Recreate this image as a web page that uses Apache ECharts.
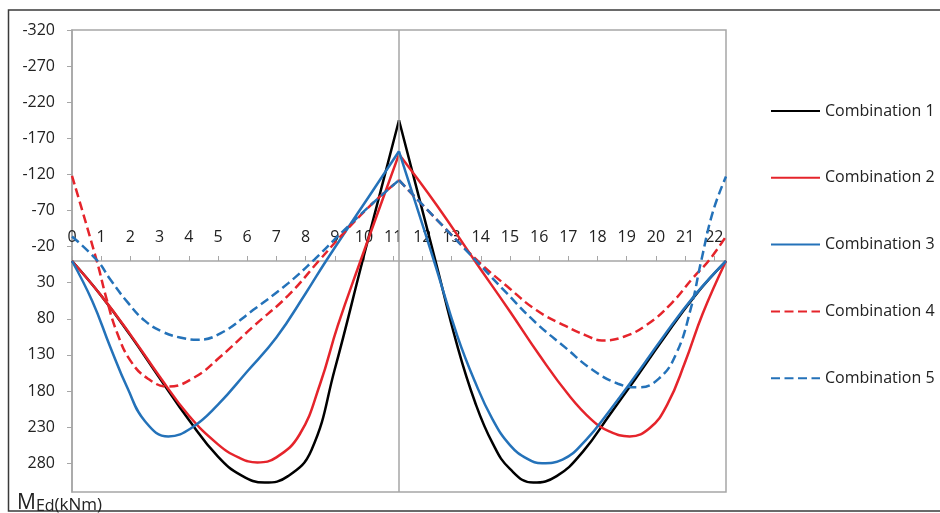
<!DOCTYPE html>
<html>
<head>
<meta charset="utf-8">
<script src="https://cdn.jsdelivr.net/npm/echarts@6/dist/echarts.min.js"></script>
<style>
  html, body { margin: 0; padding: 0; background: #ffffff; }
  #chart { width: 940px; height: 513px; }
</style>
</head>
<body>
<div id="chart"></div>
<script>
// Two spans of 11.2 m; the middle support is at x = 11.2 m
const supportX = 11.2;

// Stations x (m) and bending moment MEd (kNm) for each load combination
const comb1X = [0, 1.0, 2.0, 3.0, 4.0, 5.0, 5.8, 6.6, 7.4, 8.2, 9.0, 9.95, 11.2,
                12.45, 13.2, 13.8, 14.4, 15.0, 15.8, 16.6, 17.5, 18.4, 19.3, 20.2, 21.3, 22.4];
const comb1M = [0, 48, 103, 162, 220, 271, 297, 307, 298, 262, 150, 0, -195,
                0, 118, 195, 252, 288, 307, 298, 264, 214, 163, 111, 50, 0];

const comb2X = [0, 1.0, 2.0, 3.0, 4.0, 5.0, 5.7, 6.35, 7.0, 7.8, 8.5, 9.1, 9.88, 11.2,
                12.5, 13.8, 15.0, 16.0, 17.0, 17.8, 18.4, 19.1, 19.8, 20.4, 21.0, 21.6, 22.4];
const comb2M = [0, 48, 102, 160, 214, 254, 272, 279, 272, 240, 170, 90, 0, -148,
                -77, 0, 70, 130, 185, 220, 236, 243, 231, 198, 140, 73, 0];

const comb3X = [0, 0.7, 1.3, 1.9, 2.5, 3.3, 4.1, 5.0, 6.0, 7.0, 8.0, 8.7, 9.9, 11.2,
                12.4, 13.2, 13.8, 14.4, 15.0, 15.6, 16.1, 16.8, 17.6, 18.4, 19.3, 20.2, 21.3, 22.4];
const comb3M = [0, 56, 118, 176, 222, 243, 231, 199, 153, 106, 45, 0, -73, -152,
                0, 104, 167, 219, 255, 274, 280, 275, 248, 208, 159, 108, 49, 0];

const comb4X = [0, 0.85, 1.2, 1.55, 2.0, 2.6, 3.3, 4.2, 5.1, 6.2, 7.4, 8.45, 9.2, 10.3, 11.2,
                12.5, 13.9, 14.9, 15.9, 16.9, 17.6, 18.15, 18.9, 19.7, 20.5, 21.3, 21.8, 22.4];
const comb4M = [-118, 0, 55, 100, 138, 163, 174, 161, 132, 91, 48, 0, -34, -80, -112,
                -57, 0, 35, 68, 90, 103, 110, 105, 88, 60, 22, 0, -34];

const comb5X = [0, 0.88, 1.3, 1.9, 2.5, 3.1, 3.7, 4.3, 5.1, 6.2, 7.4, 8.3, 9.2, 10.3, 11.2,
                12.5, 13.85, 14.9, 15.9, 16.9, 17.8, 18.7, 19.4, 20.1, 20.7, 21.2, 21.55, 21.95, 22.4];
const comb5M = [-34, 0, 25, 57, 83, 98, 106, 109, 100, 68, 31, -2, -38, -80, -112,
                -57, 0, 45, 86, 120, 150, 170, 175, 163, 128, 65, 0, -68, -117];

const seriesNames = ['Combination 1', 'Combination 2', 'Combination 3', 'Combination 4', 'Combination 5'];
const combX = [comb1X, comb2X, comb3X, comb4X, comb5X];
const combM = [comb1M, comb2M, comb3M, comb4M, comb5M];

const RED = '#e5242b';
const BLUE = '#2472b9';
const GRID_GRAY = '#a6a6a6';
const TEXT = '#222222';
const FONT = 'Open Sans';

const styles = [
  { color: '#000000', type: 'solid' },
  { color: RED, type: 'solid' },
  { color: BLUE, type: 'solid' },
  { color: RED, type: [9, 4.5] },
  { color: BLUE, type: [9, 4.5] }
];

function pairs(xs, ys) { return xs.map((x, i) => [x, ys[i]]); }

// Each combination is drawn as two smooth spans so the support peak stays sharp
const series = [];
seriesNames.forEach((name, k) => {
  const st = styles[k];
  const xs = combX[k], ms = combM[k];
  const s = xs.indexOf(supportX);
  const base = {
    name: name,
    type: 'line',
    symbol: 'none',
    smooth: 0.45,
    z: 3 + k,
    lineStyle: { color: st.color, width: 2.5, type: st.type },
    itemStyle: { color: st.color }
  };
  series.push(Object.assign({}, base, { data: pairs(xs.slice(0, s + 1), ms.slice(0, s + 1)) }));
  series.push(Object.assign({}, base, { data: pairs(xs.slice(s), ms.slice(s)) }));
});

// Vertical line over the middle support
series.push({
  type: 'line',
  data: [],
  silent: true,
  z: 1,
  markLine: {
    silent: true,
    symbol: 'none',
    label: { show: false },
    lineStyle: { color: GRID_GRAY, width: 1.5, type: 'solid' },
    data: [{ xAxis: supportX }]
  }
});

const GRID_TOP = 30, GRID_BOTTOM = 21, CHART_H = 513;
const Y_MIN = -320, Y_MAX = 320;
// distance from the plot bottom up to the zero line
const zeroOffset = (CHART_H - GRID_TOP - GRID_BOTTOM) * (Y_MAX - 0) / (Y_MAX - Y_MIN);

const chart = echarts.init(document.getElementById('chart'), null, { renderer: 'canvas' });
chart.setOption({
  animation: false,
  backgroundColor: '#ffffff',
  textStyle: { fontFamily: FONT },
  grid: {
    left: 72, top: GRID_TOP, right: 214, bottom: GRID_BOTTOM,
    show: true, borderColor: GRID_GRAY, borderWidth: 1.5
  },
  legend: {
    orient: 'vertical',
    left: 770, top: 103,
    padding: 0,
    itemWidth: 49, itemHeight: 14, itemGap: 50.8,
    data: seriesNames,
    itemStyle: { opacity: 0 },
    textStyle: { fontFamily: FONT, fontSize: 16, color: TEXT }
  },
  xAxis: {
    type: 'value',
    position: 'bottom',
    offset: -zeroOffset,
    min: 0, max: 22.4, interval: 1,
    axisLine: { onZero: false, lineStyle: { color: GRID_GRAY, width: 1.5 } },
    axisTick: { show: true, inside: true, length: 5, lineStyle: { color: GRID_GRAY } },
    axisLabel: { inside: true, margin: 16, showMaxLabel: false, fontFamily: FONT, fontSize: 16, color: TEXT },
    splitLine: { show: false }
  },
  yAxis: {
    type: 'value',
    inverse: true,
    min: Y_MIN, max: Y_MAX, interval: 50,
    axisLine: { show: true, lineStyle: { color: GRID_GRAY, width: 1.5 } },
    axisTick: { show: true, length: 5, lineStyle: { color: GRID_GRAY } },
    axisLabel: { margin: 17, showMaxLabel: false, fontFamily: FONT, fontSize: 16, color: TEXT },
    splitLine: { show: false }
  },
  graphic: [
    {
      type: 'rect',
      shape: { x: 8.5, y: 10, width: 960, height: 501 },
      style: { fill: 'none', stroke: '#3a3a3a', lineWidth: 1.5 },
      silent: true
    },
    {
      type: 'text',
      left: 17, top: 493,
      silent: true,
      style: {
        text: '{m|M}{s|Ed}{u|(kNm)}',
        rich: {
          m: { fontFamily: FONT, fontSize: 21, fill: TEXT, verticalAlign: 'bottom' },
          s: { fontFamily: FONT, fontSize: 16, fill: TEXT, verticalAlign: 'bottom' },
          u: { fontFamily: FONT, fontSize: 17, fill: TEXT, verticalAlign: 'bottom' }
        }
      }
    }
  ],
  series: series
});
</script>
</body>
</html>
